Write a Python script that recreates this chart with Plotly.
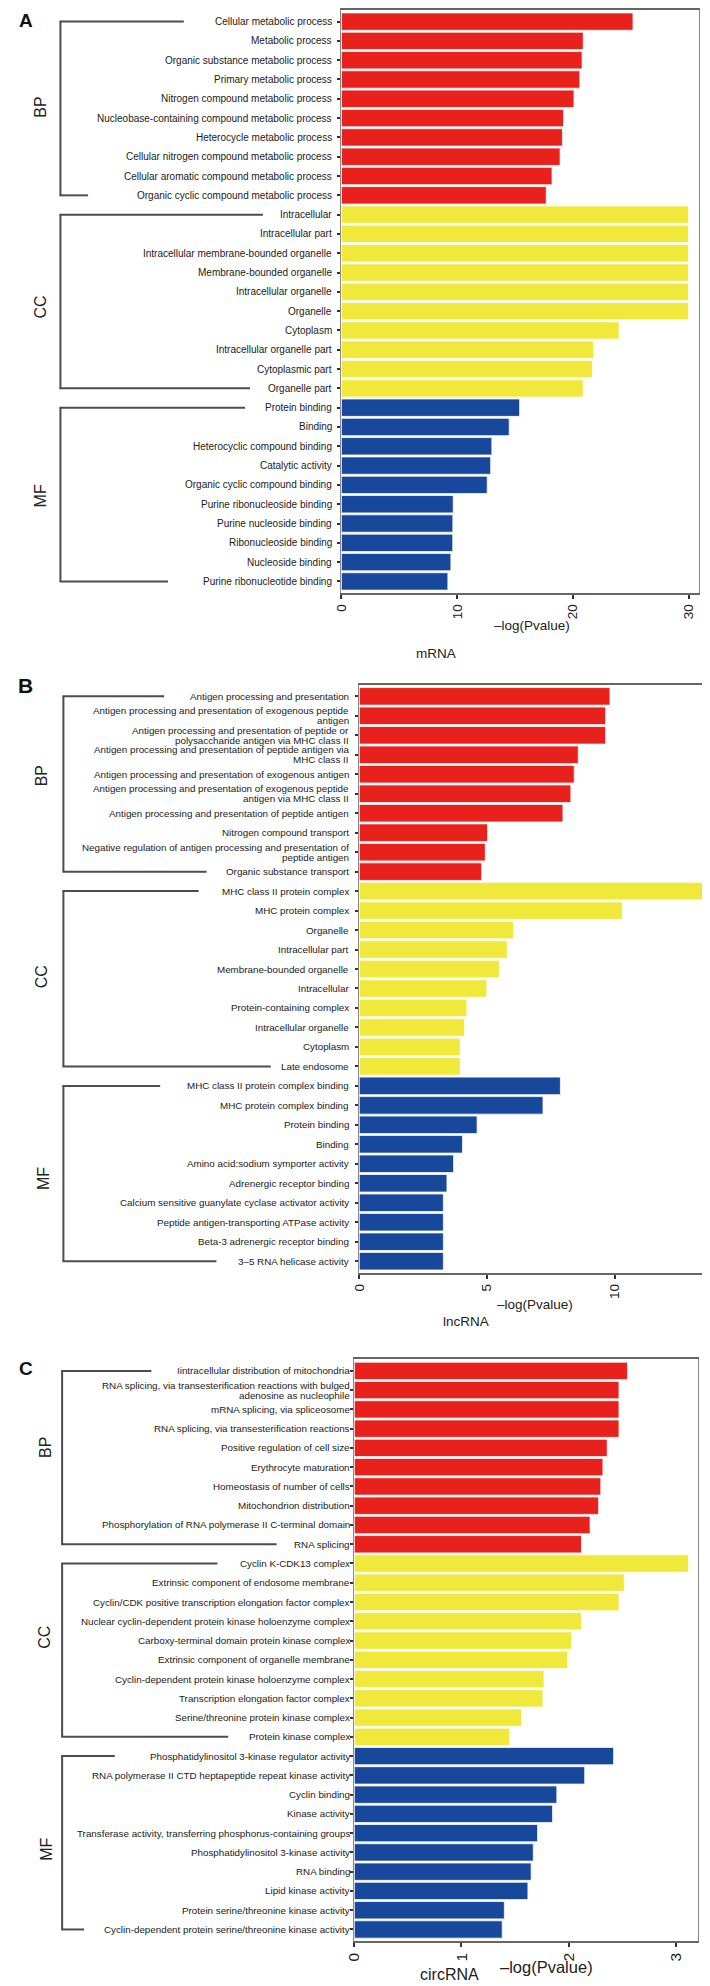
import plotly.graph_objects as go

# ---------------- DATA ----------------
# Panel A (mRNA)
a_bp_terms = ["Cellular metabolic process", "Metabolic process", "Organic substance metabolic process",
              "Primary metabolic process", "Nitrogen compound metabolic process",
              "Nucleobase-containing compound metabolic process", "Heterocycle metabolic process",
              "Cellular nitrogen compound metabolic process", "Cellular aromatic compound metabolic process",
              "Organic cyclic compound metabolic process"]
a_bp_vals = [25.2, 20.9, 20.8, 20.6, 20.1, 19.2, 19.1, 18.9, 18.2, 17.7]
a_cc_terms = ["Intracellular", "Intracellular part", "Intracellular membrane-bounded organelle",
              "Membrane-bounded organelle", "Intracellular organelle", "Organelle", "Cytoplasm",
              "Intracellular organelle part", "Cytoplasmic part", "Organelle part"]
a_cc_vals = [30.0, 30.0, 30.0, 30.0, 30.0, 30.0, 24.0, 21.8, 21.7, 20.9]
a_mf_terms = ["Protein binding", "Binding", "Heterocyclic compound binding", "Catalytic activity",
              "Organic cyclic compound binding", "Purine ribonucleoside binding", "Purine nucleoside binding",
              "Ribonucleoside binding", "Nucleoside binding", "Purine ribonucleotide binding"]
a_mf_vals = [15.4, 14.5, 13.0, 12.9, 12.6, 9.66, 9.63, 9.62, 9.46, 9.2]
a_xticks = [0, 10, 20, 30]

# Panel B (lncRNA)
b_bp_terms = ["Antigen processing and presentation",
              "Antigen processing and presentation of exogenous peptide<br>antigen",
              "Antigen processing and presentation of peptide or<br>polysaccharide antigen via MHC class II",
              "Antigen processing and presentation of peptide antigen via<br>MHC class II",
              "Antigen processing and presentation of exogenous antigen",
              "Antigen processing and presentation of exogenous peptide<br>antigen via MHC class II",
              "Antigen processing and presentation of peptide antigen",
              "Nitrogen compound transport",
              "Negative regulation of antigen processing and presentation of<br>peptide antigen",
              "Organic substance transport"]
b_bp_vals = [9.81, 9.64, 9.64, 8.57, 8.41, 8.28, 7.97, 5.02, 4.93, 4.79]
b_cc_terms = ["MHC class II protein complex", "MHC protein complex", "Organelle", "Intracellular part",
              "Membrane-bounded organelle", "Intracellular", "Protein-containing complex",
              "Intracellular organelle", "Cytoplasm", "Late endosome"]
b_cc_vals = [13.63, 10.3, 6.04, 5.79, 5.48, 4.99, 4.21, 4.12, 3.95, 3.95]
b_mf_terms = ["MHC class II protein complex binding", "MHC protein complex binding", "Protein binding",
              "Binding", "Amino acid:sodium symporter activity", "Adrenergic receptor binding",
              "Calcium sensitive guanylate cyclase activator activity",
              "Peptide antigen-transporting ATPase activity", "Beta-3 adrenergic receptor binding",
              "3–5 RNA helicase activity"]
b_mf_vals = [7.87, 7.19, 4.61, 4.04, 3.69, 3.43, 3.29, 3.29, 3.29, 3.29]
b_xticks = [0, 5, 10]

# Panel C (circRNA)
c_bp_terms = ["Iintracellular distribution of mitochondria",
              "RNA splicing, via transesterification reactions with bulged<br>adenosine as nucleophile",
              "mRNA splicing, via spliceosome", "RNA splicing, via transesterification reactions",
              "Positive regulation of cell size", "Erythrocyte maturation", "Homeostasis of number of cells",
              "Mitochondrion distribution", "Phosphorylation of RNA polymerase II C-terminal domain",
              "RNA splicing"]
c_bp_vals = [2.55, 2.47, 2.47, 2.47, 2.36, 2.32, 2.30, 2.28, 2.20, 2.12]
c_cc_terms = ["Cyclin K-CDK13 complex", "Extrinsic component of endosome membrane",
              "Cyclin/CDK positive transcription elongation factor complex",
              "Nuclear cyclin-dependent protein kinase holoenzyme complex",
              "Carboxy-terminal domain protein kinase complex", "Extrinsic component of organelle membrane",
              "Cyclin-dependent protein kinase holoenzyme complex", "Transcription elongation factor complex",
              "Serine/threonine protein kinase complex", "Protein kinase complex"]
c_cc_vals = [3.12, 2.52, 2.47, 2.12, 2.03, 1.99, 1.77, 1.76, 1.56, 1.45]
c_mf_terms = ["Phosphatidylinositol 3-kinase regulator activity",
              "RNA polymerase II CTD heptapeptide repeat kinase activity", "Cyclin binding", "Kinase activity",
              "Transferase activity, transferring phosphorus-containing groups",
              "Phosphatidylinositol 3-kinase activity", "RNA binding", "Lipid kinase activity",
              "Protein serine/threonine kinase activity",
              "Cyclin-dependent protein serine/threonine kinase activity"]
c_mf_vals = [2.42, 2.15, 1.89, 1.85, 1.71, 1.67, 1.65, 1.62, 1.40, 1.38]
c_xticks = [0, 1, 2, 3]

group_names = ["BP", "CC", "MF"]
panel_titles = ["mRNA", "lncRNA", "circRNA"]
panel_letters = ["A", "B", "C"]
x_title = "–log(Pvalue)"

# ---------------- STYLE / LAYOUT ----------------
W, H = 710, 1986
FONT = "Liberation Sans, Arial, sans-serif"
COLORS = ["#E8211C", "#F0E93B", "#17489B"]


def px(x):
    return x / W


def py(y):
    return 1 - y / H


panels = [
    dict(groups=[(a_bp_terms, a_bp_vals), (a_cc_terms, a_cc_vals), (a_mf_terms, a_mf_vals)],
         ticks=a_xticks, xmax=30.9, left=328.6, right=690.7, top=1.0, bottom=584.3,
         lab_font=10, lab_gap=9.2, tick_font=13.5, title_font=13.5, name_font=13.5,
         xt_pos=(522, 617), name_pos=(424, 645), letter_pos=(9, 12), letter_size=19,
         bracket_x=44, bracket_ends=[(169, 72), (249, 236), (231, 153)],
         glabel_pos=[(24, 98), (24, 298), (24, 487)]),
    dict(groups=[(b_bp_terms, b_bp_vals), (b_cc_terms, b_cc_vals), (b_mf_terms, b_mf_vals)],
         ticks=b_xticks, xmax=14.0, left=346.7, right=709.0, top=676.0, bottom=1264.5,
         lab_font=9.8, lab_gap=10.0, tick_font=13.5, title_font=13.5, name_font=13.5,
         xt_pos=(525, 1296), name_pos=(455, 1313), letter_pos=(9, 677), letter_size=21,
         bracket_x=47, bracket_ends=[(149, 192), (184, 257), (145, 202)],
         glabel_pos=[(25, 767), (25, 968), (27, 1170)]),
    dict(groups=[(c_bp_terms, c_bp_vals), (c_cc_terms, c_cc_vals), (c_mf_terms, c_mf_vals)],
         ticks=c_xticks, xmax=3.21, left=341.7, right=690.0, top=1351.0, bottom=1933.0,
         lab_font=9.8, lab_gap=4.4, tick_font=15.5, title_font=16.5, name_font=16,
         xt_pos=(536, 1959), name_pos=(438, 1966), letter_pos=(9, 1360), letter_size=19,
         bracket_x=45.7, bracket_ends=[(136, 263), (203, 214), (99, 68)],
         glabel_pos=[(29, 1439), (28, 1629), (29, 1841)]),
]

fig = go.Figure()
annotations = []
shapes = []
layout_axes = {}

for k, p in enumerate(panels):
    sfx = "" if k == 0 else str(k + 1)
    xname, yname = "x" + sfx, "y" + sfx
    all_terms = [t for g in p["groups"] for t in g[0]]
    n = len(all_terms)

    for gi, (terms, vals) in enumerate(p["groups"]):
        fig.add_trace(go.Bar(
            x=vals, y=terms, orientation="h", width=0.9,
            marker=dict(color=COLORS[gi], line=dict(color="rgba(255,255,255,0.75)", width=1)),
            xaxis=xname, yaxis=yname, showlegend=False,
            hovertemplate="%{y}: %{x}<extra></extra>"))

    layout_axes["xaxis" + sfx] = dict(
        domain=[px(p["left"]), px(p["right"])], anchor=yname, range=[0, p["xmax"]],
        tickmode="array", tickvals=p["ticks"], ticktext=[str(t) for t in p["ticks"]],
        tickangle=-90, ticks="outside", ticklen=4, tickwidth=1.5, tickcolor="#333",
        tickfont=dict(family=FONT, size=p["tick_font"], color="#222"),
        showline=True, linecolor="#666", linewidth=1.5, mirror=True,
        showgrid=False, zeroline=False, fixedrange=True)
    layout_axes["yaxis" + sfx] = dict(
        domain=[py(p["bottom"]), py(p["top"])], anchor=xname,
        type="category", categoryorder="array", categoryarray=all_terms,
        range=[n - 0.4, -0.6], ticks="outside", ticklen=3, tickwidth=1.5, tickcolor="#333",
        showticklabels=False, showline=True, linecolor="#888", linewidth=1, mirror=True,
        showgrid=False, zeroline=False, fixedrange=True)

    # category labels (right aligned, tight line spacing)
    line_gap = 10.0
    for i, term in enumerate(all_terms):
        lines = term.split("<br>")
        m = len(lines)
        for j, line in enumerate(lines):
            off = (j - (m - 1) / 2) * line_gap
            annotations.append(dict(
                text=line, x=px(p["left"]), xref="paper", y=i, yref=yname,
                xanchor="right", yanchor="middle", xshift=-p["lab_gap"], yshift=-off,
                showarrow=False, borderpad=0, borderwidth=0,
                font=dict(family=FONT, size=p["lab_font"], color="#1a1a1a")))

    # brackets and group labels
    start = 0
    for gi, (terms, vals) in enumerate(p["groups"]):
        first, last = start, start + len(terms) - 1
        start += len(terms)
        bx = px(p["bracket_x"])
        ln = dict(color="#4d4d4d", width=2)
        shapes.append(dict(type="line", xref="paper", yref=yname, x0=bx, x1=bx, y0=first, y1=last, line=ln))
        e_top, e_bot = p["bracket_ends"][gi]
        shapes.append(dict(type="line", xref="paper", yref=yname, x0=bx - px(1), x1=px(e_top),
                           y0=first, y1=first, line=ln))
        shapes.append(dict(type="line", xref="paper", yref=yname, x0=bx - px(1), x1=px(e_bot),
                           y0=last, y1=last, line=ln))
        gx, gy = p["glabel_pos"][gi]
        annotations.append(dict(text=group_names[gi], x=px(gx), y=py(gy), xref="paper", yref="paper",
                                xanchor="center", yanchor="middle", textangle=-90, showarrow=False,
                                font=dict(family=FONT, size=16, color="#222")))

    # axis title, panel name, panel letter
    tx, ty = p["xt_pos"]
    annotations.append(dict(text=x_title, x=px(tx), y=py(ty), xref="paper", yref="paper",
                            xanchor="center", yanchor="middle", showarrow=False,
                            font=dict(family=FONT, size=p["title_font"], color="#222")))
    nx, ny = p["name_pos"]
    annotations.append(dict(text=panel_titles[k], x=px(nx), y=py(ny), xref="paper", yref="paper",
                            xanchor="center", yanchor="middle", showarrow=False, borderpad=0, borderwidth=0,
                            font=dict(family=FONT, size=p["name_font"], color="#222")))
    lx, ly = p["letter_pos"]
    annotations.append(dict(text="<b>" + panel_letters[k] + "</b>", x=px(lx), y=py(ly),
                            xref="paper", yref="paper", xanchor="center", yanchor="middle",
                            showarrow=False, font=dict(family=FONT, size=p["letter_size"], color="#111")))

fig.update_layout(
    width=W, height=H, autosize=False,
    margin=dict(l=0, r=0, t=0, b=0, pad=0),
    paper_bgcolor="white", plot_bgcolor="white",
    barmode="overlay", bargap=0.1,
    annotations=annotations, shapes=shapes,
    **layout_axes)

fig.write_html("out.html")
